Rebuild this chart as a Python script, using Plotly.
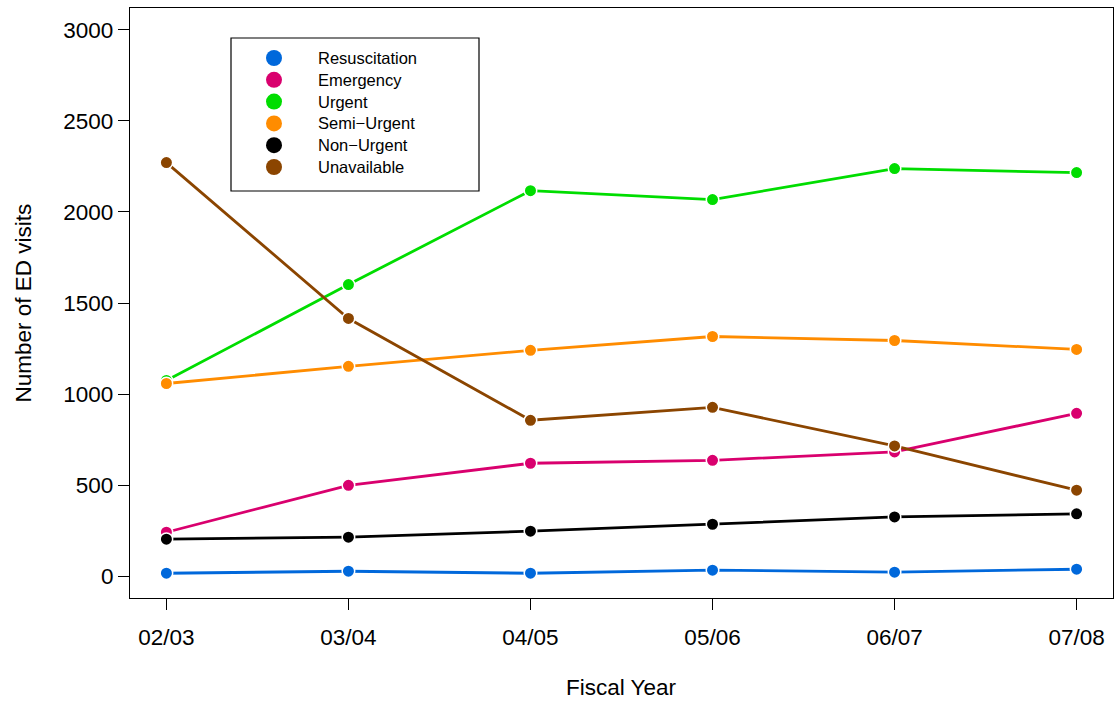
import plotly.graph_objects as go

years = ["02/03", "03/04", "04/05", "05/06", "06/07", "07/08"]
series_names = ["Resuscitation", "Emergency", "Urgent", "Semi\u2212Urgent", "Non\u2212Urgent", "Unavailable"]
series_colors = ["#0068DB", "#D9006E", "#00DD00", "#FF8C00", "#000000", "#8B4500"]

resuscitation = [16, 27, 16, 33, 22, 38]
emergency = [241, 499, 620, 636, 682, 894]
urgent = [1075, 1601, 2117, 2068, 2238, 2216]
semi_urgent = [1058, 1152, 1240, 1316, 1294, 1245]
non_urgent = [203, 214, 247, 285, 325, 342]
unavailable = [2271, 1415, 856, 927, 715, 472]

series_values = [resuscitation, emergency, urgent, semi_urgent, non_urgent, unavailable]

y_ticks = [0, 500, 1000, 1500, 2000, 2500, 3000]

FONT = "Liberation Sans, Arial, Helvetica, sans-serif"

W, H = 1115, 703
ML, MR, MT, MB = 130, 2, 8, 105
PW, PH = W - ML - MR, H - MT - MB

fig = go.Figure()
for name, color, vals in zip(series_names, series_colors, series_values):
    fig.add_trace(go.Scatter(
        x=list(range(len(years))), y=vals, name=name, mode="lines+markers",
        line=dict(color=color, width=2.8),
        marker=dict(color=color, size=12.5, line=dict(color="white", width=1.5)),
        showlegend=False,
    ))

# manual legend (R-style box legend)
def px_x(px):
    return (px - ML) / PW

def px_y(py):
    return (MT + PH - py) / PH

shapes = [dict(type="rect", xref="paper", yref="paper",
               x0=px_x(231), x1=px_x(479), y0=px_y(191), y1=px_y(38),
               line=dict(color="black", width=1.2), fillcolor="white", layer="above")]
annotations = []
row0, row_gap = 58, 21.8
for i, (name, color) in enumerate(zip(series_names, series_colors)):
    yy = px_y(row0 + i * row_gap)
    shapes.append(dict(type="circle", xref="paper", yref="paper",
                       xsizemode="pixel", ysizemode="pixel",
                       xanchor=px_x(274), yanchor=yy, x0=-8, x1=8, y0=-8, y1=8,
                       fillcolor=color, line=dict(width=0), layer="above"))
    annotations.append(dict(xref="paper", yref="paper", x=px_x(315.5), y=yy,
                            text=name, showarrow=False, xanchor="left", yanchor="middle",
                            font=dict(family=FONT, size=16.5, color="black")))

annotations.append(dict(xref="paper", yref="paper", x=0.5, y=0, yshift=-(687 - (MT + PH)),
                        text="Fiscal Year", showarrow=False, xanchor="center", yanchor="middle",
                        font=dict(family=FONT, size=22.5, color="black")))
annotations.append(dict(xref="paper", yref="paper", x=0, xshift=-(ML - 22.5), y=0.5,
                        text="Number of ED visits", showarrow=False, textangle=-90,
                        xanchor="center", yanchor="middle",
                        font=dict(family=FONT, size=22.5, color="black")))

fig.update_layout(
    width=W, height=H,
    margin=dict(l=ML, r=MR, t=MT, b=MB),
    paper_bgcolor="white", plot_bgcolor="white",
    font=dict(family=FONT, size=22, color="black"),
    shapes=shapes, annotations=annotations,
    showlegend=False,
)
fig.update_xaxes(
    range=[-0.2, len(years) - 1 + 0.2],
    tickmode="array", tickvals=list(range(len(years))), ticktext=years,
    ticks="outside", ticklen=11, tickwidth=1.2, tickcolor="black",
    showline=True, linecolor="black", linewidth=1.2, mirror=True,
    showgrid=False, zeroline=False,
    tickfont=dict(family=FONT, size=22.5, color="black"),
    ticklabelstandoff=8,
)
fig.update_yaxes(
    range=[-120, 3120],
    tickmode="array", tickvals=y_ticks, ticktext=[str(v) for v in y_ticks],
    ticks="outside", ticklen=11, tickwidth=1.2, tickcolor="black",
    showline=True, linecolor="black", linewidth=1.2, mirror=True,
    showgrid=False, zeroline=False,
    tickfont=dict(family=FONT, size=22.5, color="black"),
)

fig.write_html("out.html", config={"displayModeBar": False},
               post_script="document.body.style.margin='0';document.body.style.overflow='hidden';")
